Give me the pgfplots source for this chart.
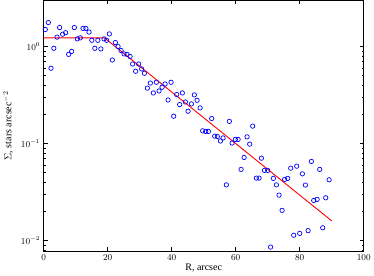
\documentclass[border=0pt]{standalone}
\usepackage{pgfplots}
\pgfplotsset{compat=1.18}
\usepackage{fontspec}
\setmainfont{Liberation Serif}
\begin{document}
\begin{tikzpicture}
\begin{axis}[
  scale only axis,
  width=320pt, height=251pt,
  xmin=0, xmax=100,
  ymode=log, ymin=0.0077, ymax=3,
  xtick={0,20,40,60,80,100},
  tick align=inside,
  xtick pos=both, ytick pos=both,
  major tick length=4pt, minor tick length=2pt,
  tick label style={font=\small},
  xlabel={R, arcsec},
  ylabel={$\Sigma$, stars arcsec$^{-2}$},
  xlabel style={yshift=4pt},
  ylabel style={yshift=1pt},
  axis line style={line width=0.6pt},
  every tick/.style={black, line width=0.5pt},
  clip=true,
]
\addplot[only marks, mark=o, mark size=2.2pt, blue, mark options={line width=0.7pt}] coordinates {
(0.53,1.50) (1.47,1.77) (2.31,0.597) (3.19,0.96) (4.19,1.25) (5.0,1.57)
(5.94,1.34) (6.88,1.39) (7.81,0.83) (8.75,0.89) (9.59,1.57) (10.53,1.20)
(11.47,1.23) (12.31,1.54) (13.19,1.54) (14.19,1.41) (15.06,1.16) (16.0,0.96)
(16.94,1.16) (17.88,0.945) (18.88,1.20) (19.69,1.16) (20.53,1.35) (21.47,0.727)
(22.41,1.10) (23.25,1.0) (24.19,0.91) (25.13,0.84) (26.06,0.83) (27.0,0.79)
(27.81,0.66) (28.75,0.556) (29.69,0.66) (30.63,0.587) (31.47,0.53) (32.41,0.372)
(33.34,0.42) (34.28,0.332) (35.22,0.428) (36.06,0.348) (37.0,0.38) (37.94,0.411)
(38.88,0.281) (39.81,0.428) (40.63,0.191) (41.56,0.32) (42.5,0.252) (43.34,0.332)
(44.28,0.268) (45.13,0.215) (46.16,0.256) (47.09,0.317) (47.94,0.279) (48.88,0.233)
(49.69,0.135) (50.63,0.133) (51.47,0.133) (52.5,0.181) (53.44,0.119) (54.28,0.118)
(55.22,0.106) (56.06,0.114) (57.09,0.0374) (58.03,0.169) (58.88,0.101) (59.9,0.110)
(60.75,0.110) (61.69,0.054) (62.63,0.0717) (63.56,0.117) (64.38,0.0984) (65.31,0.151)
(66.47,0.0439) (67.31,0.0439) (68.03,0.0705) (68.97,0.0527) (70.0,0.0527) (70.9,0.00853)
(71.78,0.0436) (72.72,0.0374) (73.55,0.0293) (74.5,0.0204) (75.3,0.0426) (76.25,0.0436)
(77.19,0.0556) (78.13,0.0113) (79.06,0.0583) (80.0,0.0118) (80.84,0.0486) (81.78,0.0372)
(82.63,0.0126) (83.66,0.0652) (84.38,0.0258) (85.44,0.0265) (86.25,0.054) (87.19,0.0135)
(88.13,0.0275) (89.19,0.0422)
};
\addplot[red, line width=0.9pt] coordinates {(0,1.23) (19,1.23) (90,0.0159)};
\end{axis}
\end{tikzpicture}
\end{document}
